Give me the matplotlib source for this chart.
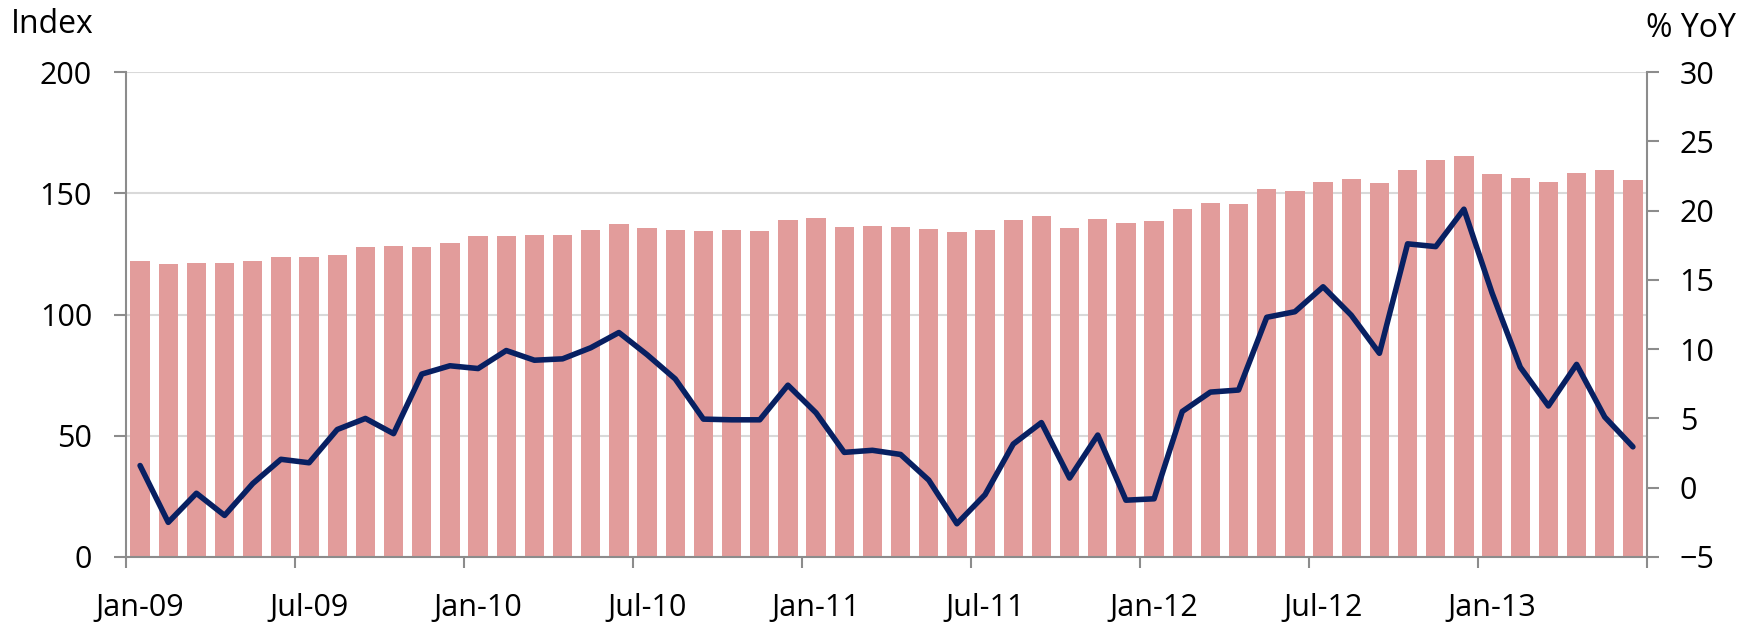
import matplotlib
matplotlib.use("Agg")
import matplotlib.pyplot as plt
import numpy as np
import pandas as pd

plt.rcParams['font.family'] = ['Open Sans', 'DejaVu Sans']

# ---- data ----
months = pd.date_range("2009-01-01", periods=54, freq="MS")
index_values = [121.9, 120.7, 121.4, 121.4, 122.2, 123.6, 123.6, 124.7, 128.0, 128.1,
                128.0, 129.4, 132.5, 132.5, 132.6, 132.7, 134.7, 137.3, 135.7, 134.7,
                134.4, 134.7, 134.4, 139.0, 139.7, 136.1, 136.5, 136.0, 135.3, 133.9,
                135.0, 138.8, 140.6, 135.7, 139.5, 137.7, 138.6, 143.5, 145.8, 145.4,
                151.8, 150.9, 154.5, 155.9, 154.4, 159.6, 163.7, 165.4, 157.9, 156.2,
                154.6, 158.5, 159.7, 155.5]
yoy_values = [1.6, -2.5, -0.4, -2.0, 0.3, 2.05, 1.8, 4.2, 5.0, 3.9,
              8.2, 8.8, 8.6, 9.9, 9.2, 9.3, 10.1, 11.2, 9.6, 7.85,
              4.95, 4.9, 4.9, 7.4, 5.4, 2.55, 2.7, 2.4, 0.55, -2.6,
              -0.5, 3.15, 4.7, 0.7, 3.8, -0.9, -0.8, 5.5, 6.9, 7.05,
              12.3, 12.7, 14.5, 12.45, 9.7, 17.6, 17.4, 20.1, 14.05, 8.7,
              5.9, 8.9, 5.1, 2.95]
tick_labels = ["Jan-09", "Jul-09", "Jan-10", "Jul-10", "Jan-11",
               "Jul-11", "Jan-12", "Jul-12", "Jan-13"]
left_ticks = [0, 50, 100, 150, 200]
right_ticks = [-5, 0, 5, 10, 15, 20, 25, 30]

bar_color = "#E29C9B"
line_color = "#082062"
axis_gray = "#8C8C8C"
grid_gray = "#D9D9D9"
fs = 22

fig = plt.figure(figsize=(17.54, 6.24), dpi=100)
ax = fig.add_axes([126/1754, 67/624, (1647-126)/1754, (557-72)/624])
x = np.arange(len(months))

ax.bar(x, index_values, width=0.69, color=bar_color, zorder=2)
ax.set_xlim(-0.5, len(months) - 0.5)
ax.set_ylim(0, 200)
ax.set_yticks(left_ticks)
ax.set_axisbelow(True)
ax.grid(axis='y', color=grid_gray, linewidth=1.5, zorder=0)

# x ticks: boundaries every 6 months, labels at first month of period
ax.set_xticks(np.arange(-0.5, len(months), 6))
ax.set_xticklabels([])
ax.set_xticks(np.arange(0, len(months), 6)[:len(tick_labels)], minor=True)
ax.set_xticklabels(tick_labels, minor=True)
ax.tick_params(axis='x', which='major', length=8, width=1.5, color=axis_gray, direction='out')
ax.tick_params(axis='x', which='minor', length=0, pad=26, labelsize=fs)
ax.tick_params(axis='y', length=8.5, width=1.5, color=axis_gray, pad=16, labelsize=fs)

for s in ['top', 'right']:
    ax.spines[s].set_visible(False)
for s in ['left', 'bottom']:
    ax.spines[s].set_color(axis_gray)
    ax.spines[s].set_linewidth(1.5)

ax2 = ax.twinx()
ax2.plot(x, yoy_values, color=line_color, linewidth=4.0, solid_joinstyle='round',
         solid_capstyle='round', zorder=3)
ax2.set_ylim(-5, 30)
ax2.set_yticks(right_ticks)
ax2.tick_params(axis='y', length=8.5, width=1.5, color=axis_gray, pad=15, labelsize=fs)
for s in ['top', 'left', 'bottom']:
    ax2.spines[s].set_visible(False)
ax2.spines['right'].set_color(axis_gray)
ax2.spines['right'].set_linewidth(1.5)

fig.text(11/1754, 1 - 33/624, "Index", fontsize=23, ha='left', va='baseline')
fig.text(1736/1754, 1 - 37/624, "% YoY", fontsize=23, ha='right', va='baseline')

fig.savefig("out.png", dpi=100)
